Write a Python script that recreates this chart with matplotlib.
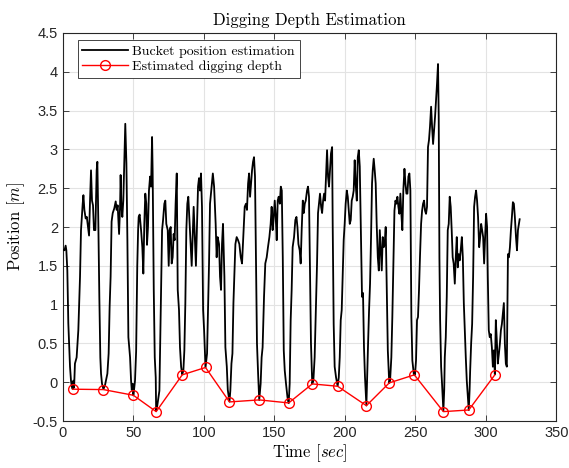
import matplotlib
matplotlib.use('Agg')
import matplotlib.pyplot as plt

plt.rcParams['mathtext.fontset'] = 'cm'
plt.rcParams['axes.unicode_minus'] = False

# Bucket position estimation (time [sec], position [m])
t_bucket = [
    0, 1.2, 2.0, 2.5, 3.2, 3.9, 5.1, 5.8, 6.3, 7.0, 7.5, 8.0, 8.6, 9.8, 11.0, 12.2, 12.9, 14.1, 14.6, 15.3,
    16.2, 17.0, 17.9, 18.6, 19.3, 20.0, 20.7, 21.4, 22.1, 23.1, 24.0, 24.5, 25.2, 25.9, 26.6, 27.1, 27.8, 28.8,
    29.9, 30.6, 31.6, 32.5, 33.2, 33.9, 34.6, 35.4, 36.5, 37.5, 38.2, 38.9, 39.9, 40.6, 41.0, 41.5, 42.2, 42.9,
    43.6, 44.3, 45.1, 45.8, 46.5, 47.7, 48.4, 48.9, 49.6, 50.0, 50.5, 51.2, 52.0, 52.8, 53.4, 53.8, 54.5,
    55.5, 56.4, 57.1, 57.8, 58.5, 59.2, 59.7, 60.4, 61.1, 61.9, 62.6, 63.3, 63.7, 64.5, 65.2, 65.9, 66.2, 67.0,
    67.8, 68.5, 68.9, 69.6, 70.4, 71.1, 72.0, 72.7, 73.4, 74.4, 75.1, 75.8, 76.5, 77.2, 77.9, 78.6, 79.3, 80.0,
    80.8, 81.5, 82.4, 83.1, 83.9, 84.7, 85.5, 86.2, 86.9, 87.6, 88.3, 89.0, 89.7, 90.4, 91.4, 92.1, 92.8, 93.7,
    94.4, 95.2, 95.9, 96.6, 97.3, 98.0, 98.7, 99.5, 100.2, 100.9, 101.2, 102.3, 103.0, 103.7, 104.4, 105.6,
    106.4, 107.3, 108.4, 109.1, 109.8, 110.8, 111.5, 112.2, 112.9, 113.6, 114.6, 115.3, 116.3, 117.0, 117.6,
    118.2, 118.8, 119.6, 120.3, 121.0, 121.7, 122.4, 123.3, 124.3, 125.2, 126.2, 127.1, 128.0, 129.0, 129.9,
    130.6, 131.4, 132.1, 132.8, 133.5, 134.2, 134.9, 135.6, 136.3, 137.0, 137.7, 138.5, 139.3, 140.3, 141.0,
    141.7, 142.7, 143.6, 144.6, 145.5, 146.5, 147.4, 148.1, 148.8, 149.6, 150.3, 151.0, 151.7, 152.4, 153.1,
    153.9, 154.6, 155.3, 156.0, 156.7, 157.4, 158.3, 159.3, 160.2, 160.9, 161.6, 162.3, 163.0, 164.0, 164.9,
    165.7, 166.4, 167.1, 168.0, 168.7, 169.4, 170.2, 170.9, 171.6, 172.3, 173.2, 173.9, 174.6, 175.3, 176.0,
    176.9, 177.7, 178.6, 179.3, 180.3, 181.0, 181.7, 182.4, 183.2, 183.9, 184.6, 185.3, 186.0, 186.7, 187.4,
    188.1, 188.8, 189.5, 190.2, 191.0, 191.4, 192.1, 192.8, 193.8, 194.9, 195.7, 196.4, 197.1, 197.8, 198.5,
    199.2, 199.9, 200.6, 201.4, 202.1, 202.8, 203.5, 204.2, 204.9, 205.6, 206.3, 207.0, 207.7, 208.5, 209.2,
    209.9, 210.6, 211.5, 212.2, 212.9, 213.6, 214.3, 215.3, 215.7, 216.5, 217.2, 217.9, 218.6, 219.3, 219.8,
    220.5, 221.2, 221.9, 222.6, 223.4, 224.1, 224.8, 225.5, 226.2, 226.9, 227.6, 228.3, 229.0, 229.7, 230.5,
    231.5, 232.1, 233.0, 233.7, 234.4, 235.2, 235.9, 236.6, 237.3, 238.0, 238.7, 239.4, 240.1, 240.8, 241.5,
    242.3, 243.0, 243.7, 244.4, 245.1, 245.8, 246.5, 247.2, 247.9, 248.9, 249.3, 249.8, 250.5, 251.2, 251.9,
    252.6, 253.3, 254.1, 254.8, 255.5, 256.2, 256.9, 257.6, 258.3, 259.0, 259.7, 260.4, 261.2, 261.9, 262.6,
    263.3, 264.0, 264.7, 265.4, 266.1, 266.6, 267.1, 267.6, 268.3, 268.9, 269.9, 270.5, 270.9, 271.6, 272.3,
    273.0, 273.7, 274.4, 275.1, 275.8, 276.5, 277.2, 278.0, 278.7, 279.4, 280.1, 280.8, 281.5, 282.2, 283.0,
    283.7, 284.4, 285.1, 285.8, 286.5, 287.3, 287.9, 288.5, 288.9, 289.6, 290.3, 291.0, 291.7, 292.4, 293.1,
    293.8, 294.5, 295.3, 296.0, 296.7, 297.4, 298.1, 298.8, 299.5, 300.2, 300.9, 301.4, 302.1, 302.8, 303.5,
    304.3, 305.0, 305.7, 306.4, 307.1, 307.8, 308.5, 309.3, 310.0, 310.7, 311.4, 312.1, 312.8, 313.5, 314.2,
    314.9, 315.7, 316.4, 317.1, 317.8, 318.5, 319.2, 319.9, 320.6, 321.4, 322.1, 322.8, 323.5, 324.0,
]
pos_bucket = [
    1.71, 1.70, 1.76, 1.70, 1.44, 0.76, 0.20, 0.02, -0.05, -0.09, 0.02, -0.07, 0.24, 0.32, 0.67, 1.36, 1.96, 2.30, 2.41, 2.22,
    2.11, 2.13, 2.00, 1.89, 2.34, 2.73, 2.34, 2.28, 1.96, 1.96, 2.73, 2.84, 2.04, 1.10, 0.32, 0.11, -0.02, -0.09,
    -0.04, 0.02, 0.11, 0.37, 0.97, 1.36, 2.07, 2.18, 2.24, 2.33, 2.22, 2.28, 1.91, 2.26, 2.67, 2.30, 2.13, 2.34,
    2.82, 3.33, 2.82, 1.83, 0.58, 0.32, 0.02, -0.10, -0.02, -0.17, -0.10, 0.02, 0.40, 1.50, 1.96, 2.13, 2.16,
    1.96, 1.74, 1.40, 2.04, 2.43, 2.30, 1.77, 2.00, 2.47, 2.65, 2.52, 3.16, 2.73, 1.19, 0.32, 0.06, -0.37, -0.30,
    -0.20, -0.11, 0.32, 1.06, 1.96, 2.09, 2.30, 2.34, 2.04, 1.96, 1.50, 1.96, 2.00, 1.53, 1.61, 1.91, 1.83, 2.30,
    2.69, 1.19, 0.93, 0.45, 0.20, 0.10, 0.15, 0.41, 1.02, 1.96, 2.30, 2.39, 2.13, 1.87, 1.50, 1.87, 2.26, 1.83,
    1.50, 2.04, 2.52, 2.63, 2.47, 2.69, 2.26, 0.93, 0.67, 0.32, 0.19, 0.37, 0.93, 1.53, 2.30, 2.54,
    2.69, 2.52, 2.04, 1.61, 1.87, 1.78, 1.36, 1.19, 1.78, 2.04, 1.36, 0.45, 0.20, -0.10, -0.18,
    -0.25, -0.11, 0.24, 0.37, 1.02, 1.40, 1.78, 1.87, 1.83, 1.78, 1.61, 1.53, 1.87, 2.26, 2.30,
    2.22, 2.56, 2.69, 2.39, 2.56, 2.73, 2.84, 2.90, 2.65, 1.61, 0.50, 0.11, -0.23, -0.02, 0.32,
    0.45, 1.10, 1.53, 1.61, 1.74, 1.87, 2.04, 2.26, 1.96, 2.13, 2.34, 2.13, 1.83, 2.34, 2.39,
    2.30, 2.52, 2.47, 1.61, 0.41, 0.15, -0.02, -0.19, -0.27, -0.02, 0.80, 1.19, 1.74, 1.87, 2.09,
    2.13, 2.00, 1.78, 1.70, 1.53, 1.96, 2.34, 2.18, 2.30, 2.34, 2.47, 2.52, 2.39, 1.40, 0.50,
    -0.02, 0.02, 0.32, 0.84, 1.53, 2.18, 2.30, 2.43, 2.26, 2.18, 2.34, 2.43, 2.34, 2.65, 2.99,
    2.65, 2.52, 2.73, 2.95, 3.03, 2.04, 0.75, 0.20, 0.06, -0.05, 0.06, 0.32, 0.80, 0.93, 1.40,
    1.83, 2.04, 2.30, 2.47, 2.39, 2.22, 2.04, 2.09, 2.34, 2.39, 2.47, 2.86, 2.56, 2.34, 2.90,
    2.99, 2.78, 1.85, 1.10, 1.15, 0.45, 0.07, -0.30, -0.02, 0.50, 0.93, 1.27, 1.87, 2.56, 2.73,
    2.88, 2.73, 2.56, 2.04, 1.61, 1.44, 1.96, 1.70, 1.44, 1.87, 1.74, 1.78, 2.00, 1.27, 0.41,
    -0.01, 0.02, 0.32, 0.84, 1.48, 2.21, 2.34, 2.30, 2.39, 2.26, 2.17, 2.43, 2.17, 1.96, 2.47,
    2.75, 2.56, 2.43, 2.43, 2.65, 2.69, 2.47, 0.84, 0.28, 0.11, 0.09, 0.10, 0.28, 0.80, 0.84,
    1.18, 1.61, 2.04, 2.21, 2.30, 2.34, 2.21, 2.17, 2.26, 3.03, 3.12, 3.29, 3.55, 3.29, 3.07,
    3.24, 3.42, 3.63, 3.85, 4.10, 3.42, 1.60, 0.80, 0.20, 0.00, -0.37, -0.10, 0.32, 0.58, 1.10,
    1.96, 2.04, 2.39, 2.26, 1.96, 1.61, 1.53, 1.27, 1.61, 1.87, 1.48, 1.65, 1.57, 1.70, 1.87,
    1.61, 1.02, 0.67, 0.32, 0.02, -0.20, -0.36, -0.10, 0.15, 0.50, 0.75, 1.36, 2.26, 2.39, 2.47,
    2.34, 2.13, 1.74, 1.87, 2.04, 1.96, 1.87, 1.53, 1.87, 2.17, 2.00, 1.36, 0.67, 0.58, 0.62,
    0.45, 0.20, 0.41, 0.10, 0.80, 0.54, 0.24, 0.37, 0.50, 0.67, 0.75, 0.88, 1.02, 0.50, 0.24,
    0.20, 1.65, 1.61, 1.74, 1.96, 2.13, 2.32, 2.30, 2.13, 1.87, 1.70, 1.96, 2.04, 2.10,
]

# Estimated digging depth
t_depth = [7.0, 28.8, 50.0, 66.2, 84.7, 101.2, 118.2, 139.3, 160.2, 176.9,
           194.9, 215.3, 231.5, 249.3, 269.9, 287.9, 306.4]
depth = [-0.09, -0.095, -0.168, -0.379, 0.095, 0.19, -0.254, -0.228, -0.267, -0.022,
         -0.052, -0.302, -0.009, 0.095, -0.379, -0.358, 0.095]

xticks = [0, 50, 100, 150, 200, 250, 300, 350]
yticks = [-0.5, 0, 0.5, 1, 1.5, 2, 2.5, 3, 3.5, 4, 4.5]
ytick_labels = ['-0.5', '0', '0.5', '1', '1.5', '2', '2.5', '3', '3.5', '4', '4.5']

fig = plt.figure(figsize=(5.69, 4.68), dpi=100)
ax = fig.add_axes([0.1104, 0.1004, 0.8673, 0.8291])

ax.plot(t_bucket, pos_bucket, color='black', linewidth=1.3, label='Bucket position estimation', zorder=3)
ax.plot(t_depth, depth, color='#ff0000', linewidth=1.0, marker='o', markersize=7,
        markerfacecolor='none', markeredgecolor='#ff0000', markeredgewidth=1.0,
        label='Estimated digging depth', zorder=4)

ax.set_xlim(0, 350)
ax.set_ylim(-0.5, 4.5)
ax.set_xticks(xticks)
ax.set_xticklabels([str(v) for v in xticks])
ax.set_yticks(yticks)
ax.set_yticklabels(ytick_labels)

ax.grid(True, color='#e3e3e3', linewidth=0.8)
ax.set_axisbelow(True)
for s in ax.spines.values():
    s.set_color('#262626')
    s.set_linewidth(0.8)
ax.tick_params(direction='in', top=True, right=True, length=4, width=0.6,
               colors='#262626', labelsize=10.5)
for lbl in ax.get_xticklabels() + ax.get_yticklabels():
    lbl.set_fontfamily('Liberation Sans')

ax.set_title('Digging Depth Estimation', fontfamily='cmr10', fontsize=12, pad=6)
ax.set_xlabel(r'Time $[sec]$', fontfamily='cmr10', fontsize=12, labelpad=2)
ax.set_ylabel(r'Position $[m]$', fontfamily='cmr10', fontsize=12, labelpad=4)

leg = ax.legend(loc='upper left', bbox_to_anchor=(0.030, 0.982), borderaxespad=0,
                prop={'family': 'cmr10', 'size': 10}, fancybox=False, framealpha=1,
                edgecolor='#262626', handlelength=3.3, borderpad=0.35, labelspacing=0.2,
                handletextpad=0.3)
leg.get_frame().set_linewidth(0.6)

fig.savefig('out.png', dpi=100)
